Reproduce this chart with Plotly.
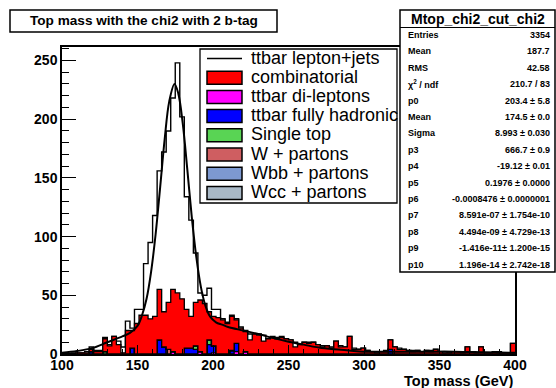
import numpy as np
import plotly.graph_objects as go

# ---------------- data ----------------
bin_low = 100
bin_width = 3
n_bins = 100

# total histogram (black outline), 3 GeV bins from 100 to 400 GeV
total = [0, 0, 1, 1, 1, 2, 6, 3, 3, 14,
         8, 15, 11, 6, 28, 22, 38, 38, 77, 95,
         118, 156, 172, 190, 218, 248, 202, 134, 114, 86,
         52, 50, 56, 38, 38, 30, 27, 33, 30, 23,
         20, 17, 17, 17, 16, 13, 15, 14, 15, 13,
         12, 10, 8, 10, 10, 10, 8, 7, 7, 6,
         11, 7, 6, 15, 5, 4, 5, 3, 2, 2,
         2, 3, 12, 6, 5, 4, 3, 3, 3, 2,
         3, 3, 4, 2, 2, 1, 2, 2, 2, 6,
         2, 1, 6, 1, 1, 2, 2, 1, 1, 9]

# combinatorial (red)
combinatorial = [0, 0, 0, 1, 1, 1, 2, 2, 2, 11,
                 7, 15, 8, 1, 20, 15, 26, 33, 33, 30,
                 32, 43, 30, 40, 53, 52, 47, 33, 27, 37,
                 44, 43, 24, 25, 31, 29, 26, 29, 20, 22,
                 17, 12, 17, 16, 11, 13, 14, 13, 14, 13,
                 12, 6, 8, 10, 9, 10, 8, 6, 7, 5,
                 11, 6, 6, 15, 4, 4, 5, 3, 2, 1,
                 2, 2, 8, 6, 4, 4, 3, 2, 3, 2,
                 3, 2, 4, 2, 1, 1, 2, 2, 1, 6,
                 2, 1, 6, 1, 1, 2, 1, 1, 1, 9]

# small components: {bin low edge (GeV): entries}
dileptons = {172: 2, 190: 2, 199: 1, 214: 2, 220: 2}
fully_hadronic = {118: 2, 145: 5, 163: 12, 166: 6, 181: 5, 184: 5, 187: 4,
                  196: 8, 199: 6, 211: 3, 214: 7, 316: 4}
single_top = {127: 2, 187: 3, 196: 4}
w_partons = {169: 4}
wbb_partons = {}
wcc_partons = {}

# fit curve (gaussian + polynomial)
fit_mass = [100, 110, 120, 130, 140, 145, 150, 153, 156, 159, 162, 165, 168, 171,
            174.5, 177, 180, 183, 186, 189, 192, 195, 198, 202, 206, 210, 220,
            230, 240, 250, 260, 270, 280, 290, 300, 320, 340, 360, 380, 400]
fit_val = [1, 2.5, 5, 10, 15, 18, 24, 33, 47, 70, 102, 142, 183, 215,
           230, 222, 196, 157, 116, 82, 57, 41, 32, 27, 25, 23, 20,
           17, 13.5, 10.5, 8, 5.5, 4, 3, 2, 2, 2, 2, 1.5, 1]

legend_labels = ["ttbar lepton+jets", "combinatorial", "ttbar di-leptons",
                 "ttbar fully hadronic", "Single top", "W + partons",
                 "Wbb + partons", "Wcc + partons"]

stats_title = "Mtop_chi2_cut_chi2"
stats_names = ["Entries", "Mean", "RMS", "\u03c7<sup>2</sup> / ndf", "p0", "Mean",
               "Sigma", "p3", "p4", "p5", "p6", "p7", "p8", "p9", "p10"]
stats_values = ["3354", "187.7", "42.58", "210.7 / 83", "203.4 \u00b1 5.8",
                "174.5 \u00b1 0.0", "8.993 \u00b1 0.030", "666.7 \u00b1 0.9",
                "-19.12 \u00b1 0.01", "0.1976 \u00b1 0.0000",
                "-0.0008476 \u00b1 0.0000001", "8.591e-07 \u00b1 1.754e-10",
                "4.494e-09 \u00b1 4.729e-13", "-1.416e-11\u00b1 1.200e-15",
                "1.196e-14 \u00b1 2.742e-18"]

title_text = "Top mass with the chi2 with 2 b-tag"
x_title = "Top mass (GeV)"

# ---------------- helpers ----------------
edges = [bin_low + bin_width * i for i in range(n_bins + 1)]


def to_bins(d):
    arr = [0] * n_bins
    for k, v in d.items():
        arr[(k - bin_low) // bin_width] = v
    return arr


def step(vals):
    return list(vals) + [vals[-1]]


COL = {
    "comb": "#ff0000", "dilep": "#ff00ff", "had": "#0000ff", "stop": "#59d454",
    "wp": "#cf5e61", "wbb": "#7d99d1", "wcc": "#a8b8c6",
}

fig = go.Figure()

# total outline
fig.add_trace(go.Scatter(x=edges, y=step(total), mode="lines",
                         line=dict(shape="hv", color="black", width=1.4),
                         hoverinfo="skip"))

components = [
    (to_bins(dileptons), COL["dilep"]),
    (to_bins(fully_hadronic), COL["had"]),
    (to_bins(single_top), COL["stop"]),
    (to_bins(w_partons), COL["wp"]),
    (to_bins(wbb_partons), COL["wbb"]),
    (to_bins(wcc_partons), COL["wcc"]),
    (combinatorial, COL["comb"]),
]
for vals, col in components:
    fig.add_trace(go.Scatter(x=edges, y=step(vals), mode="lines", stackgroup="s",
                             line=dict(shape="hv", color="black", width=1.3),
                             fillcolor=col, hoverinfo="skip"))

# fit curve
fig.add_trace(go.Scatter(x=fit_mass, y=fit_val, mode="lines",
                         line=dict(shape="spline", color="black", width=2),
                         hoverinfo="skip"))

# ---------------- layout ----------------
PL, PR, PT, PB = 62, 515, 47, 354
W, H = PR - PL, PB - PT


def px(x):
    return (x - PL) / W


def py(y):
    return (PB - y) / H


FONT = "Liberation Sans, Arial, sans-serif"
tickfont = dict(family=FONT, size=14, color="black", weight="bold")

fig.update_layout(
    width=556, height=388,
    margin=dict(l=PL, r=556 - PR, t=PT, b=388 - PB),
    paper_bgcolor="white", plot_bgcolor="white", showlegend=False,
    xaxis=dict(range=[100, 400], tick0=100, dtick=50, ticks="inside", ticklen=9,
               tickwidth=1.2, tickcolor="black", ticklabelstandoff=-3,
               minor=dict(ticks="inside", ticklen=5, dtick=10, tickcolor="black", tickwidth=1),
               showline=True, linecolor="black", linewidth=1.5, mirror=True,
               showgrid=False, zeroline=False, tickfont=tickfont),
    yaxis=dict(range=[0, 261.5], tick0=0, dtick=50, ticks="inside", ticklen=14,
               tickwidth=1.2, tickcolor="black",
               minor=dict(ticks="inside", ticklen=7, dtick=10, tickcolor="black", tickwidth=1),
               showline=True, linecolor="black", linewidth=1.5, mirror=True,
               showgrid=False, zeroline=False, tickfont=tickfont),
)

shapes = []
annots = []

# title box
shapes.append(dict(type="rect", xref="paper", yref="paper", x0=px(10), x1=px(277),
                   y0=py(32), y1=py(10), line=dict(color="black", width=1.5),
                   fillcolor="white", layer="above"))
annots.append(dict(text=title_text, xref="paper", yref="paper", x=px(143.5), y=py(21),
                   xanchor="center", yanchor="middle", showarrow=False,
                   font=dict(family=FONT, size=13.6, color="black", weight="bold")))

# legend box
shapes.append(dict(type="rect", xref="paper", yref="paper", x0=px(200), x1=px(397),
                   y0=py(203), y1=py(49), line=dict(color="black", width=1.3),
                   fillcolor="white", layer="above"))
leg_colors = [None, COL["comb"], COL["dilep"], COL["had"], COL["stop"], COL["wp"],
              COL["wbb"], COL["wcc"]]
for i, (lab, col) in enumerate(zip(legend_labels, leg_colors)):
    yc = 58.5 + 19.2 * i
    if col is None:
        shapes.append(dict(type="line", xref="paper", yref="paper", x0=px(207), x1=px(242),
                           y0=py(yc), y1=py(yc), line=dict(color="black", width=1.5),
                           layer="above"))
    else:
        shapes.append(dict(type="rect", xref="paper", yref="paper", x0=px(207), x1=px(242),
                           y0=py(yc + 6.5), y1=py(yc - 6.5),
                           line=dict(color="black", width=1.5), fillcolor=col, layer="above"))
    annots.append(dict(text=lab, xref="paper", yref="paper", x=px(249), y=py(yc - 1),
                       xanchor="left", yanchor="middle", showarrow=False,
                       font=dict(family=FONT, size=18, color="black")))

# stats box
shapes.append(dict(type="rect", xref="paper", yref="paper", x0=px(400), x1=px(555),
                   y0=py(272), y1=py(10), line=dict(color="black", width=1.5),
                   fillcolor="white", layer="above"))
shapes.append(dict(type="line", xref="paper", yref="paper", x0=px(400), x1=px(555),
                   y0=py(27.5), y1=py(27.5), line=dict(color="black", width=1.2),
                   layer="above"))
annots.append(dict(text=stats_title, xref="paper", yref="paper", x=px(478), y=py(19),
                   xanchor="center", yanchor="middle", showarrow=False,
                   font=dict(family=FONT, size=14, color="black", weight="bold")))
for i, (nm, val) in enumerate(zip(stats_names, stats_values)):
    yc = 35 + 16.4 * i
    annots.append(dict(text=nm, xref="paper", yref="paper", x=px(406), y=py(yc),
                       xanchor="left", yanchor="middle", showarrow=False,
                       font=dict(family=FONT, size=9, color="black", weight="bold")))
    annots.append(dict(text=val, xref="paper", yref="paper", x=px(552), y=py(yc),
                       xanchor="right", yanchor="middle", showarrow=False,
                       font=dict(family=FONT, size=9, color="black", weight="bold")))

# x axis title
annots.append(dict(text=x_title, xref="paper", yref="paper", x=px(515), y=py(381),
                   xanchor="right", yanchor="middle", showarrow=False,
                   font=dict(family=FONT, size=14.5, color="black", weight="bold")))

fig.update_layout(shapes=shapes, annotations=annots)
fig.write_html("out.html")
